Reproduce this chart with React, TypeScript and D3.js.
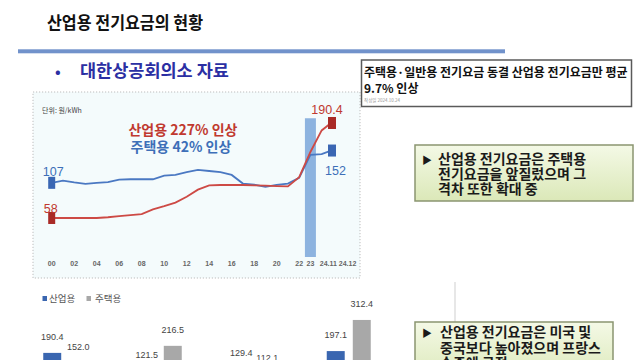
import * as d3 from "d3";

// 2000 ~ 2024.11 (years since 2000, last point = Nov 2024)
const periodYears = [0, 1, 2, 3, 4, 5, 6, 7, 8, 9, 10, 11, 12, 13, 14, 15, 16, 17, 18, 19, 20, 21, 22, 23, 24, 24.83];
const industrialPrice = [58, 58, 58, 58, 58, 59, 60.5, 62, 63.5, 70, 74.5, 79.5, 87.5, 97.5, 103.5, 104, 104, 104, 103.5, 103, 102.5, 102, 115, 150, 180, 190.4];
const residentialPrice = [107, 110, 107.5, 105.5, 107, 108, 111.5, 112, 112, 112, 117, 118, 122, 125, 123.5, 122, 118, 106, 104.5, 101.5, 104, 106, 114, 146, 147, 152];

const tickLabels = ["00", "02", "04", "06", "08", "10", "12", "14", "16", "18", "20", "22", "23", "24.11", "24.12"];
const tickYears = [0, 2, 4, 6, 8, 10, 12, 14, 16, 18, 20, 22, 23, 24.6, 26.3];

const barCountries = ["한국", "미국", "중국", "프랑스"];
const barSeries = ["산업용", "주택용"];
const barIndustrial = [190.4, 121.5, 129.4, 197.1];
const barResidential = [152.0, 216.5, 112.1, 312.4];

const callout1 = ["산업용 전기요금은 주택용", "전기요금을 앞질렀으며 그", "격차 또한 확대 중"];
const callout2 = ["산업용 전기요금은 미국 및", "중국보다 높아졌으며 프랑스", "수준에 근접"];

const KR = "'Noto Sans CJK KR', 'Noto Sans', sans-serif";
const NUM = "'Liberation Sans', Arial, sans-serif";

const RED = "#c0392f";
const BLUE = "#3d6fb8";

export default function App() {
  // line chart scales
  const x = d3.scaleLinear().domain([0, 24.83]).range([51.7, 331]);
  const y = d3.scaleLinear().domain([0, 200]).range([259.6, 116.1]);

  const indPts = periodYears.map((t, i) => ({ t, v: industrialPrice[i] }));
  const resPts = periodYears.map((t, i) => ({ t, v: residentialPrice[i] }));
  const line = d3
    .line<{ t: number; v: number }>()
    .x((d) => x(d.t))
    .y((d) => y(d.v));

  const first = (a: number[]) => a[0];
  const last = (a: number[]) => a[a.length - 1];
  const tEnd = last(periodYears);

  // bar chart scales
  const x0 = d3.scaleBand().domain(barCountries).range([18, 396]);
  const x1 = d3
    .scaleBand()
    .domain(barSeries)
    .range([x0.bandwidth() / 2 - 22, x0.bandwidth() / 2 + 22])
    .paddingInner(0.31);
  const yb = d3.scaleLinear().domain([0, 350]).range([404.3, 309.8]);
  const barColor = d3.scaleOrdinal<string, string>().domain(barSeries).range(["#3a66b0", "#a8a8a8"]);

  const bars = barCountries.flatMap((c, i) => [
    { c, s: barSeries[0], v: barIndustrial[i] },
    { c, s: barSeries[1], v: barResidential[i] },
  ]);

  return (
    <div style={{ position: "absolute", left: 0, top: 0, width: 640, height: 360, background: "#fff" }}>
      <svg width={640} height={360} viewBox="0 0 640 360" style={{ display: "block" }}>
        <defs>
          <linearGradient id="greenBox" x1="0" y1="0" x2="0" y2="1">
            <stop offset="0%" stopColor="#f4f9e6" />
            <stop offset="100%" stopColor="#dbe8b8" />
          </linearGradient>
        </defs>

        {/* title */}
        <text x={47} y={29} fontFamily={KR} fontSize={17.5} fontWeight={700} fill="#111" textLength={156} lengthAdjust="spacingAndGlyphs">
          산업용 전기요금의 현황
        </text>
        <rect x={18} y={49.3} width={487} height={4} fill="#7192cb" />

        <text x={55} y={77} fontFamily={KR} fontSize={15} fontWeight={700} fill="#2b2fa3">•</text>
        <text x={80} y={77} fontFamily={KR} fontSize={17.5} fontWeight={700} fill="#2b2fa3">
          대한상공회의소 자료
        </text>

        {/* line chart panel */}
        <rect x={33} y={92} width={327} height={186} fill="#f4fbfc" stroke="#bdbdbd" strokeDasharray="1.2,1.8" />
        <text x={42} y={113} fontFamily={KR} fontSize={7} fill="#444">단위: 원/kWh</text>

        <rect x={x(23) - 5.5} y={y(197)} width={11} height={257 - y(197)} fill="#8db3df" />

        <path d={line(resPts) || ""} fill="none" stroke="#4a78c2" strokeWidth={1.8} />
        <path d={line(indPts) || ""} fill="none" stroke="#cd4a45" strokeWidth={1.8} />

        {/* end markers */}
        <rect x={x(0) - 3.5} y={y(first(residentialPrice)) - 6} width={7} height={12} fill="#3a66b3" />
        <rect x={x(0) - 3.5} y={y(first(industrialPrice)) - 6} width={7} height={12} fill="#a92a26" />
        <rect x={x(tEnd) - 3} y={y(last(industrialPrice)) - 6} width={8} height={12} fill="#a92a26" />
        <rect x={x(tEnd) - 3} y={y(last(residentialPrice)) - 6} width={8} height={12} fill="#3a66b3" />

        <text x={x(0) + 1.5} y={y(first(residentialPrice)) - 7} textAnchor="middle" fontFamily={NUM} fontSize={12.5} fill={BLUE}>
          {first(residentialPrice)}
        </text>
        <text x={x(0) - 1} y={y(first(industrialPrice)) - 5} textAnchor="middle" fontFamily={NUM} fontSize={12.5} fill={RED}>
          {first(industrialPrice)}
        </text>
        <text x={x(tEnd) - 4} y={y(last(industrialPrice)) - 9} textAnchor="middle" fontFamily={NUM} fontSize={12.5} fill={RED}>
          {last(industrialPrice)}
        </text>
        <text x={x(tEnd) + 4.5} y={y(last(residentialPrice)) + 24} textAnchor="middle" fontFamily={NUM} fontSize={12.5} fill={BLUE}>
          {last(residentialPrice)}
        </text>

        <text x={183} y={135} textAnchor="middle" fontFamily={KR} fontSize={14} fontWeight={700} fill={RED}>
          산업용 227% 인상
        </text>
        <text x={181} y={152} textAnchor="middle" fontFamily={KR} fontSize={14} fontWeight={700} fill={BLUE}>
          주택용 42% 인상
        </text>

        {tickLabels.map((lab, i) => (
          <text key={lab} x={x(tickYears[i])} y={266} textAnchor="middle" fontFamily={NUM} fontSize={7} fontWeight={700} fill="#666">
            {lab}
          </text>
        ))}

        {/* bar chart */}
        <rect x={42.5} y={296} width={4.5} height={5} fill="#3a66b0" />
        <text x={49} y={301.5} fontFamily={KR} fontSize={9.5} fill="#555">산업용</text>
        <rect x={86.5} y={296} width={4.5} height={5} fill="#a8a8a8" />
        <text x={95} y={301.5} fontFamily={KR} fontSize={9.5} fill="#555">주택용</text>

        {bars.map((b) => {
          const bx = (x0(b.c) ?? 0) + (x1(b.s) ?? 0);
          return (
            <g key={b.c + b.s}>
              <rect x={bx} y={yb(b.v)} width={x1.bandwidth()} height={yb(0) - yb(b.v)} fill={barColor(b.s)} />
              <text x={bx + x1.bandwidth() / 2} y={yb(b.v) - 13} textAnchor="middle" fontFamily={NUM} fontSize={9} fill="#444">
                {b.v.toFixed(1)}
              </text>
            </g>
          );
        })}

        {/* news headline box */}
        <rect x={361.5} y={60} width={270} height={46.5} fill="#fff" stroke="#5a5a5a" strokeWidth={1.5} />
        <text x={364} y={77} fontFamily={KR} fontSize={12} fontWeight={700} fill="#111">
          주택용·일반용 전기요금 동결 산업용 전기요금만 평균
        </text>
        <text x={364} y={93} fontFamily={KR} fontSize={12} fontWeight={700} fill="#111">
          9.7% 인상
        </text>
        <text x={364} y={102} fontFamily={KR} fontSize={4.5} fill="#999">작성일 2024.10.24</text>

        {/* green callout 1 */}
        <rect x={415} y={145} width={218} height={56} fill="url(#greenBox)" stroke="#8a9570" strokeWidth={1.5} />
        <text x={422} y={164} fontFamily={KR} fontSize={10} fill="#1a1a1a">▶</text>
        {callout1.map((s, i) => (
          <text key={s} x={438} y={164 + i * 15} fontFamily={KR} fontSize={14} fontWeight={700} fill="#1a1a1a">
            {s}
          </text>
        ))}

        {/* divider + green callout 2 */}
        <line x1={455} y1={282} x2={455} y2={322} stroke="#cfcfcf" strokeWidth={1} />
        <rect x={415} y={322} width={198} height={60} fill="url(#greenBox)" stroke="#8a9570" strokeWidth={1.5} />
        <text x={422} y={337} fontFamily={KR} fontSize={10} fill="#1a1a1a">▶</text>
        {callout2.map((s, i) => (
          <text key={s} x={440} y={337 + i * 15.5} fontFamily={KR} fontSize={14} fontWeight={700} fill="#1a1a1a">
            {s}
          </text>
        ))}
      </svg>
    </div>
  );
}
